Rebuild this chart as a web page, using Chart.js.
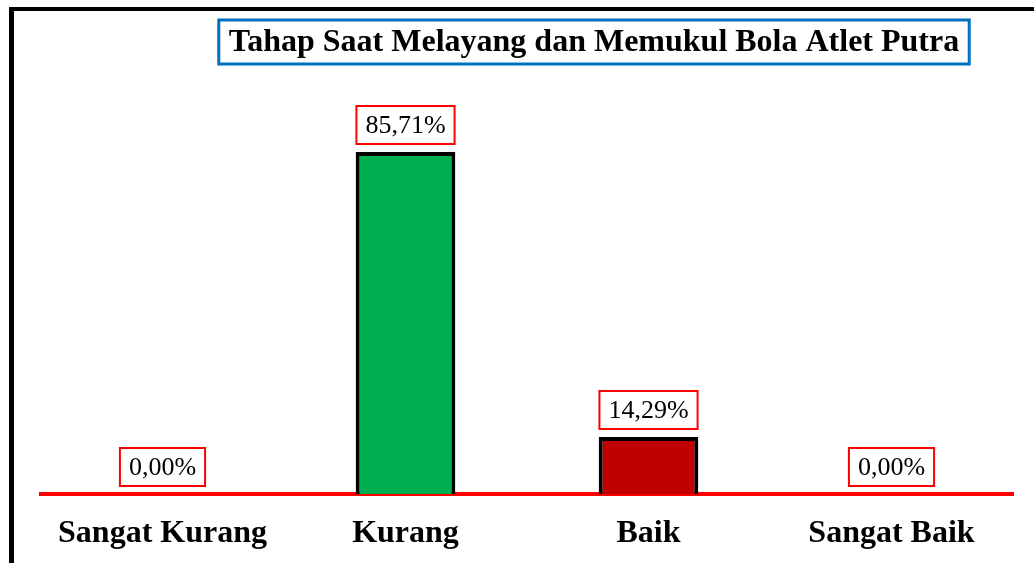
<!DOCTYPE html>
<html>
<head>
<meta charset="utf-8">
<script src="https://cdn.jsdelivr.net/npm/chart.js@4.4.1/dist/chart.umd.min.js"></script>
<style>
html, body { margin: 0; padding: 0; background: #fff; }
#wrap { width: 1034px; height: 563px; }
</style>
</head>
<body>
<div id="wrap"><canvas id="canvas" width="1034" height="563"></canvas></div>
<script>
var judul = 'Tahap Saat Melayang dan Memukul Bola Atlet Putra';
var kategori = ['Sangat Kurang', 'Kurang', 'Baik', 'Sangat Baik'];
var persen = [0.00, 85.71, 14.29, 0.00];
var label_persen = ['0,00%', '85,71%', '14,29%', '0,00%'];
var warna_batang = ['#00B050', '#00B050', '#C00000', '#C00000'];

// bingkai hitam kiri + atas, judul dengan kotak biru
var bingkai = {
    id: 'bingkai',
    beforeDraw: function(chart) {
        var c = chart.ctx;
        c.save();
        c.fillStyle = '#fff';
        c.fillRect(0, 0, chart.width, chart.height);
        c.fillStyle = '#000';
        c.fillRect(9, 7, 5, chart.height - 7);
        c.fillRect(9, 7, chart.width - 9, 4);
        c.restore();
    },
    afterDraw: function(chart) {
        var c = chart.ctx;
        c.save();
        c.font = 'bold 32px "Liberation Serif"';
        c.textAlign = 'center';
        c.textBaseline = 'middle';
        var w = c.measureText(judul).width;
        var cx = 594, cy = 42;
        c.strokeStyle = '#0070C0';
        c.lineWidth = 3;
        c.strokeRect(cx - w / 2 - 10, 20, w + 20, 44);
        c.fillStyle = '#000';
        c.fillText(judul, cx, cy + 1);
        c.restore();
    }
};

// label nilai dalam kotak merah di atas batang
var labelNilai = {
    id: 'labelNilai',
    afterDatasetsDraw: function(chart) {
        var c = chart.ctx;
        var meta = chart.getDatasetMeta(0);
        c.save();
        c.font = '26px "Liberation Serif"';
        c.textAlign = 'center';
        c.textBaseline = 'middle';
        meta.data.forEach(function(bar, i) {
            var teks = label_persen[i];
            var w = c.measureText(teks).width + 18;
            var h = 38;
            var bawah = bar.y - 8;
            c.fillStyle = '#fff';
            c.fillRect(bar.x - w / 2, bawah - h, w, h);
            c.strokeStyle = '#FF0000';
            c.lineWidth = 2;
            c.strokeRect(bar.x - w / 2, bawah - h, w, h);
            c.fillStyle = '#000';
            c.fillText(teks, bar.x, bawah - h / 2 + 1);
        });
        c.restore();
    }
};

var ctx = document.getElementById('canvas').getContext('2d');
var myChart = new Chart(ctx, {
    type: 'bar',
    data: {
        labels: kategori,
        datasets: [{
            data: persen,
            backgroundColor: warna_batang,
            borderColor: '#000',
            borderWidth: 4,
            borderSkipped: 'start',
            categoryPercentage: 1,
            barPercentage: 0.41
        }]
    },
    options: {
        responsive: false,
        animation: false,
        layout: {
            padding: { top: 95, left: 41, right: 21, bottom: 0 }
        },
        plugins: {
            legend: { display: false },
            tooltip: { enabled: false }
        },
        scales: {
            x: {
                grid: { display: false, drawTicks: false },
                border: { display: true, color: '#FF0000', width: 4 },
                afterFit: function(scale) { scale.height = 69; },
                ticks: {
                    color: '#000',
                    padding: 21,
                    maxRotation: 0,
                    font: { family: '"Liberation Serif"', size: 32, weight: 'bold' }
                }
            },
            y: {
                display: false,
                min: 0,
                max: 100
            }
        }
    },
    plugins: [bingkai, labelNilai]
});
</script>
</body>
</html>
